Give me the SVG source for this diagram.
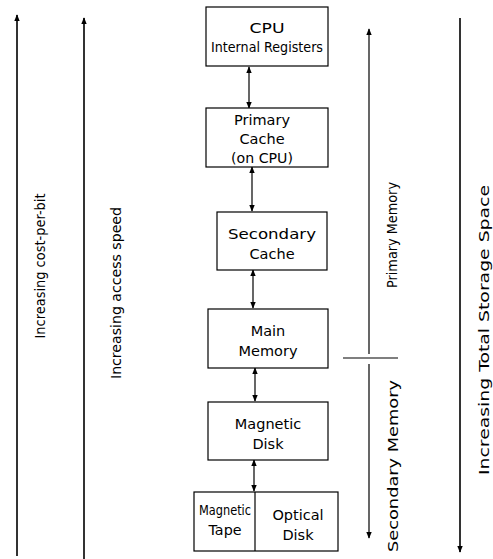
<svg xmlns="http://www.w3.org/2000/svg" width="493" height="559" viewBox="0 0 493 559">
<defs>
<marker id="ah" viewBox="0 0 10 10" refX="9" refY="5" markerWidth="7" markerHeight="7" markerUnits="userSpaceOnUse" orient="auto-start-reverse">
<path d="M0,1 L10,5 L0,9 z" fill="#000"/>
</marker>
<style>
.box{fill:#fff;stroke:#000;stroke-width:1.2}
.t{font-family:"DejaVu Sans","Liberation Sans",sans-serif;font-size:14.5px;fill:#000;text-anchor:middle}
.v{font-size:14.5px}
.c{stroke:#000;stroke-width:1.2;fill:none}
.big{stroke:#333;stroke-width:2;fill:none}
</style>
</defs>
<rect width="493" height="559" fill="#fff"/>
<g id="connectors">
<line class="c" x1="249" y1="67" x2="249" y2="108" marker-start="url(#ah)" marker-end="url(#ah)"/>
<line class="c" x1="252" y1="167" x2="252" y2="211" marker-start="url(#ah)" marker-end="url(#ah)"/>
<line class="c" x1="253" y1="270" x2="253" y2="308" marker-start="url(#ah)" marker-end="url(#ah)"/>
<line class="c" x1="255" y1="368" x2="255" y2="401" marker-start="url(#ah)" marker-end="url(#ah)"/>
<line class="c" x1="254" y1="460" x2="254" y2="491" marker-start="url(#ah)" marker-end="url(#ah)"/>
</g>
<g id="cpu">
<rect class="box" x="206" y="7" width="122" height="59"/>
<text class="t" x="267" y="33" textLength="35" lengthAdjust="spacingAndGlyphs">CPU</text>
<text class="t" x="267" y="52" textLength="112" lengthAdjust="spacingAndGlyphs">Internal Registers</text>
</g>
<g id="primary-cache">
<rect class="box" x="206" y="108" width="122" height="59"/>
<text class="t" x="262" y="125">Primary</text>
<text class="t" x="262" y="144">Cache</text>
<text class="t" x="262" y="163" textLength="62" lengthAdjust="spacingAndGlyphs">(on CPU)</text>
</g>
<g id="secondary-cache">
<rect class="box" x="217" y="212" width="110" height="58"/>
<text class="t" x="272" y="239" textLength="88" lengthAdjust="spacingAndGlyphs">Secondary</text>
<text class="t" x="272" y="259">Cache</text>
</g>
<g id="main-memory">
<rect class="box" x="208" y="309" width="120" height="59"/>
<text class="t" x="268" y="336">Main</text>
<text class="t" x="268" y="356">Memory</text>
</g>
<g id="magnetic-disk">
<rect class="box" x="208" y="402" width="120" height="58"/>
<text class="t" x="268" y="429">Magnetic</text>
<text class="t" x="268" y="449">Disk</text>
</g>
<g id="tape-optical">
<rect class="box" x="194" y="492" width="144" height="59"/>
<line class="c" x1="255" y1="492" x2="255" y2="551"/>
<text class="t" x="225" y="515" textLength="52" lengthAdjust="spacingAndGlyphs">Magnetic</text>
<text class="t" x="225" y="535" textLength="33" lengthAdjust="spacingAndGlyphs">Tape</text>
<text class="t" x="298" y="520">Optical</text>
<text class="t" x="298" y="540">Disk</text>
</g>
<g id="left-axes">
<line class="big" x1="17" y1="556" x2="17" y2="15" marker-end="url(#ah)"/>
<line class="big" x1="84" y1="559" x2="84" y2="18" marker-end="url(#ah)"/>
<text class="t v" transform="translate(45,266) rotate(-90)" textLength="145" lengthAdjust="spacingAndGlyphs">Increasing cost-per-bit</text>
<text class="t v" transform="translate(121,293) rotate(-90)" textLength="172" lengthAdjust="spacingAndGlyphs">Increasing access speed</text>
</g>
<g id="right-axes">
<line class="c" x1="369" y1="354" x2="369" y2="29" marker-end="url(#ah)"/>
<line class="c" x1="343" y1="358" x2="398" y2="358"/>
<line class="c" x1="369" y1="364" x2="369" y2="538" marker-end="url(#ah)"/>
<line class="big" x1="460" y1="18" x2="460" y2="552" marker-end="url(#ah)"/>
<text class="t v" transform="translate(397,235) rotate(-90)" textLength="106" lengthAdjust="spacingAndGlyphs">Primary Memory</text>
<text class="t v" transform="translate(398,466) rotate(-90)" textLength="172" lengthAdjust="spacingAndGlyphs">Secondary Memory</text>
<text class="t v" transform="translate(489,330) rotate(-90)" textLength="290" lengthAdjust="spacingAndGlyphs">Increasing Total Storage Space</text>
</g>
</svg>
